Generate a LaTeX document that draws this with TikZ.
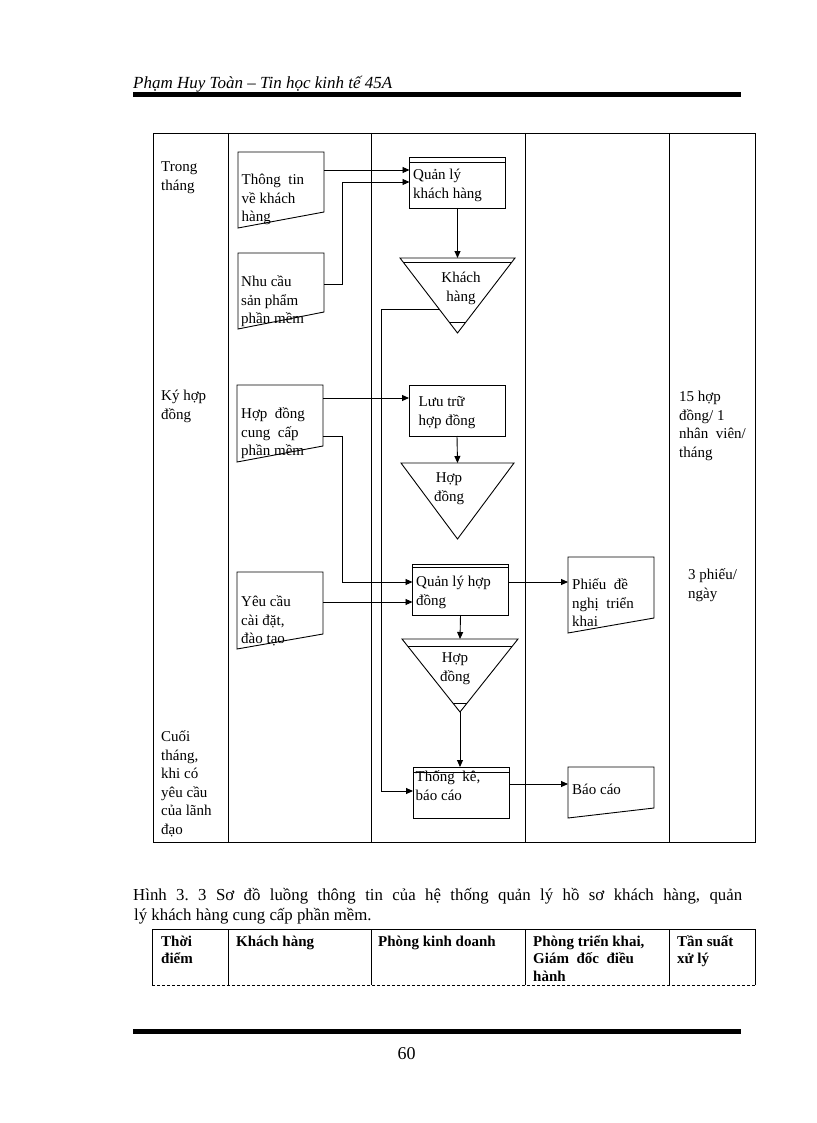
\documentclass[tikz,border=0pt]{standalone}
\usepackage{fontspec}
\setmainfont{Liberation Serif}
\usepackage{tikz}
\usetikzlibrary{calc, arrows.meta}
\frenchspacing
\newcommand{\docshape}[2]{\draw[outline] (#1.north west) -- (#1.north east) -- ([yshift = #2]#1.south east) -- (#1.south west) -- cycle;}
\newcommand{\fileshape}[1]{\draw[outline] (#1.north west) -- (#1.north east) -- (#1.south) -- cycle;}

\begin{document}
\begin{tikzpicture}[x = 1pt, y = -1pt, >= {Triangle[length = 7pt, width = 6pt]},
        outline/.style = {black, line width = 0.9pt},
        flow/.style = {black, line width = 0.9pt, ->},
        proc/.style = {draw, black, line width = 0.9pt, inner sep = 0pt, outer sep = 0pt, minimum width = 96pt, minimum height = 51pt},
        doc/.style = {inner sep = 0pt, outer sep = 0pt, minimum width = 86pt, minimum height = #1},
        store/.style = {inner sep = 0pt, outer sep = 0pt},
        txt/.style = {align = left, inner sep = 0pt, font = \fontsize{15}{18.5}\selectfont},
        headtxt/.style = {align = left, inner sep = 0pt, font = \fontsize{15}{17.5}\selectfont\bfseries}]
            \useasboundingbox (0, 0) rectangle (816, 1123);
            \fill[white] (0, 0) rectangle (816, 1123);

            \node[anchor = base west, inner sep = 0pt, font = \fontsize{17}{20}\selectfont\itshape] (runhead) at (133, 89) {Phạm Huy Toàn -- Tin học kinh tế 45A};
            \draw[line width = 5pt] (133, 94.5) -- (741, 94.5);

            \draw[outline] (153, 133) rectangle (755, 842);
            \draw[outline] (228, 133) -- (228, 842);
            \draw[outline] (371.5, 133) -- (371.5, 842);
            \draw[outline] (525, 133) -- (525, 842);
            \draw[outline] (669, 133) -- (669, 842);

            \node[txt, anchor = north west] (when month) at (161, 158.5) {\strut Trong\\tháng};
            \node[txt, anchor = north west] (when sign) at (161, 387.5) {\strut Ký hợp\\đồng};
            \node[txt, anchor = north west] (when end) at (161, 728.5) {\strut Cuối\\tháng,\\khi có\\yêu cầu\\của lãnh\\đạo};

            \node[doc = 76pt] (d1) at (281, 190) {};
            \docshape{d1}{16pt}
            \node[txt, anchor = north west] (d1 txt) at (241.5, 171.5) {\strut Thông\ \ tin\\về khách\\hàng};
            \node[doc = 76pt] (d2) at (281, 291) {};
            \docshape{d2}{17pt}
            \node[txt, anchor = north west] (d2 txt) at (241, 273.5) {\strut Nhu cầu\\sản phẩm\\phần mềm};
            \node[doc = 77pt] (d3) at (280, 423.5) {};
            \docshape{d3}{16pt}
            \node[txt, anchor = north west] (d3 txt) at (241, 405.5) {\strut Hợp\ \ đồng\\cung\ \ cấp\\phần mềm};
            \node[doc = 77pt] (d4) at (280, 610.5) {};
            \docshape{d4}{15pt}
            \node[txt, anchor = north west] (d4 txt) at (241, 593.5) {\strut Yêu cầu\\cài đặt,\\đào tạo};
            \node[doc = 76pt] (d5) at (611, 595) {};
            \docshape{d5}{15pt}
            \node[txt, anchor = north west] (d5 txt) at (572, 576.5) {\strut Phiếu\ \ đề\\nghị\ \ triển\\khai};
            \node[doc = 51pt] (d6) at (611, 792.5) {};
            \docshape{d6}{10pt}
            \node[txt, anchor = north west] (d6 txt) at (572, 781.5) {\strut Báo cáo};

            \node[proc] (p1) at (457.5, 182.5) {};
            \draw[outline] ([yshift = -5pt]p1.north west) -- ([yshift = -5pt]p1.north east);
            \node[txt, anchor = north west] (p1 txt) at (413, 166.5) {\strut Quản lý\\khách hàng};
            \node[proc] (p2) at (457, 410.5) {};
            \node[txt, anchor = north west] (p2 txt) at (418.5, 393.5) {\strut Lưu trữ\\hợp đồng};
            \node[proc] (p3) at (460.5, 589.5) {};
            \draw[outline] ([yshift = -3pt]p3.north west) -- ([yshift = -3pt]p3.north east);
            \node[txt, anchor = north west] (p3 txt) at (416, 573.5) {\strut Quản lý hợp\\đồng};
            \node[proc] (p4) at (461, 792.5) {};
            \draw[outline] ([yshift = -5pt]p4.north west) -- ([yshift = -5pt]p4.north east);
            \node[txt, anchor = north west] (p4 txt) at (415.5, 768.5) {\strut Thống\ \ kê,\\báo cáo};

            \node[store, minimum width = 115pt, minimum height = 75pt] (t1) at (457.5, 295.5) {};
            \fileshape{t1}
            \draw[outline] ($(t1.north west)!0.06!(t1.south)$) -- ($(t1.north east)!0.06!(t1.south)$);
            \draw[outline] ($(t1.north west)!0.853!(t1.south)$) -- ($(t1.north east)!0.853!(t1.south)$);
            \node[txt, align = center, anchor = north] (t1 txt) at (461, 269.5) {\strut Khách\\hàng};
            \node[store, minimum width = 113pt, minimum height = 76pt] (t2) at (457.5, 501) {};
            \fileshape{t2}
            \node[txt, align = center, anchor = north] (t2 txt) at (449, 469.5) {\strut Hợp\\đồng};
            \node[store, minimum width = 116pt, minimum height = 73pt] (t3) at (460, 675.5) {};
            \fileshape{t3}
            \draw[outline] ($(t3.north west)!0.1!(t3.south)$) -- ($(t3.north east)!0.1!(t3.south)$);
            \draw[outline] ($(t3.north west)!0.877!(t3.south)$) -- ($(t3.north east)!0.877!(t3.south)$);
            \node[txt, align = center, anchor = north] (t3 txt) at (455, 649.5) {\strut Hợp\\đồng};

            \node[txt, anchor = north west] (rate contract) at (679, 388.5) {\strut 15 hợp\\đồng/ 1\\nhân\ \ viên/\\tháng};
            \node[txt, anchor = north west] (rate slip) at (688, 566.5) {\strut 3 phiếu/\\ngày};

            \draw[flow] ([yshift = -18pt]d1.north east) -- ([yshift = -13pt]p1.north west);
            \draw[flow] ([yshift = -31pt]d2.north east) -- ++(18, 0) |- ([yshift = -25pt]p1.north west);
            \draw[flow] (p1.south) -- (t1.north);
            \draw[flow] ($(t1.north west)!0.68!(t1.south)$) -- ++(-58, 0) |- ([yshift = -24pt]p4.north west);
            \draw[flow] ([yshift = -13pt]d3.north east) -- ([yshift = -13pt]p2.north west);
            \draw[flow] ([yshift = -51pt]d3.north east) -- ++(19, 0) |- ([yshift = -18pt]p3.north west);
            \draw[flow] (p2.south) -- (t2.north);
            \draw[flow] ([yshift = -30pt]d4.north east) -- ([yshift = -38pt]p3.north west);
            \draw[flow] (p3.south) -- (t3.north);
            \draw[flow] ([yshift = -18pt]p3.north east) -- ([yshift = -25pt]d5.north west);
            \draw[flow] (t3.south) -- (t3.south |- p4.north);
            \draw[flow] ([yshift = -17pt]p4.north east) -- ([yshift = -17pt]d6.north west);

            \node[anchor = base west, inner sep = 0pt, font = \fontsize{16.8}{20}\selectfont] (caption a) at (133, 900) {\makebox[609pt][s]{Hình 3. 3 Sơ đồ luồng thông tin của hệ thống quản lý hồ sơ khách hàng, quản}};
            \node[anchor = base west, inner sep = 0pt, font = \fontsize{16.8}{20}\selectfont] (caption b) at (134, 920) {lý khách hàng cung cấp phần mềm.};

            \draw[outline] (152, 929) -- (755, 929);
            \draw[outline, dash pattern = on 3pt off 2pt] (152, 985) -- (755, 985);
            \draw[outline] (152, 929) -- (152, 985);
            \draw[outline] (228, 929) -- (228, 985);
            \draw[outline] (371.5, 929) -- (371.5, 985);
            \draw[outline] (525, 929) -- (525, 985);
            \draw[outline] (669, 929) -- (669, 985);
            \draw[outline] (755, 929) -- (755, 985);
            \node[headtxt, anchor = north west] (col time) at (161, 934) {\strut Thời\\điểm};
            \node[headtxt, anchor = north west] (col client) at (236, 934) {\strut Khách hàng};
            \node[headtxt, anchor = north west] (col sales) at (378, 934) {\strut Phòng kinh doanh};
            \node[headtxt, anchor = north west] (col deploy) at (533, 934) {\strut Phòng triển khai,\\Giám\ \ đốc\ \ điều\\hành};
            \node[headtxt, anchor = north west] (col rate) at (677, 934) {\strut Tần suất\\xử lý};

            \draw[line width = 5pt] (133, 1031) -- (741, 1031);
            \node[anchor = base, inner sep = 0pt, font = \fontsize{18}{20}\selectfont] (page no) at (406.5, 1059) {60};
        \end{tikzpicture}
\end{document}
